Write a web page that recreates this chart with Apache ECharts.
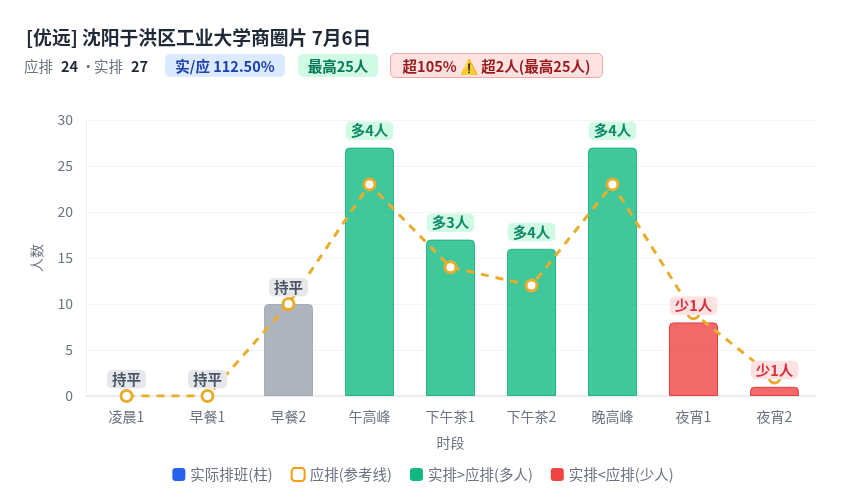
<!DOCTYPE html>
<html><head><meta charset="utf-8">
<script src="https://cdn.jsdelivr.net/npm/echarts@6/dist/echarts.min.js"></script>
<style>
html,body{margin:0;padding:0;background:#fff;width:846px;height:500px;overflow:hidden;font-family:"Noto Sans CJK SC","Noto Sans",sans-serif}
#title{position:absolute;left:26px;top:24px;font-size:18.8px;font-weight:700;line-height:25px;color:#1f2937;white-space:nowrap}
.t{position:absolute;top:55px;line-height:22px;font-size:14.5px;white-space:nowrap;color:#6b7280}
.t b{color:#1f2937;font-weight:700}
.b{position:absolute;top:54px;height:23px;line-height:23px;font-size:14.5px;font-weight:700;border-radius:5px;text-align:center;white-space:nowrap;box-sizing:border-box}
#chart{position:absolute;left:0;top:0;width:846px;height:500px}
</style></head><body>
<div id="chart"></div>
<div id="title">[优远] 沈阳于洪区工业大学商圈片 7月6日</div>
<div class="t" style="left:24px">应排</div><div class="t" style="left:61px"><b>24</b></div>
<div class="t" style="left:81px">·</div>
<div class="t" style="left:94px">实排</div><div class="t" style="left:131px"><b>27</b></div>
<div class="b" style="left:165px;width:120px;background:#dbeafe;color:#1e40af">实/应 112.50%</div>
<div class="b" style="left:298px;width:80px;background:#d1fae5;color:#047857">最高25人</div>
<div class="b" style="left:390px;width:213px;top:53px;height:25px;line-height:23px;background:#fee2e2;color:#991b1b;border:1px solid #fca5a5">超105% ⚠️ 超2人(最高25人)</div>
<script>
const categories=['凌晨1','早餐1','早餐2','午高峰','下午茶1','下午茶2','晚高峰','夜宵1','夜宵2'];
const actual=[0,0,10,27,17,16,27,8,1];
const planned=[0,0,10,23,14,12,23,9,2];
const diffLabels=['持平','持平','持平','多4人','多3人','多4人','多4人','少1人','少1人'];
const tones=['flat','flat','flat','over','over','over','over','under','under'];
const barTone={flat:['rgba(156,163,175,.82)','rgba(156,163,175,.82)'],over:['rgba(16,185,129,.8)','rgba(16,170,120,.8)'],under:['rgba(239,68,68,.8)','rgba(220,38,38,.8)']};
const labelTone={flat:['#e5e7eb','#4b5563'],over:['#d1fae5','#0f8a66'],under:['#fee2e2','#d6303f']};
const chart=echarts.init(document.getElementById('chart'),null,{renderer:'canvas'});
chart.setOption({
 animation:false,
 textStyle:{fontFamily:'"Noto Sans CJK SC","Noto Sans",sans-serif'},
 grid:{left:86,right:31,top:120,bottom:104},
 legend:{bottom:13,left:'center',itemWidth:13,itemHeight:13,itemGap:18,
  textStyle:{color:'#6b7280',fontSize:14.5},
  data:[
   {name:'实际排班(柱)',icon:'roundRect',itemStyle:{color:'#2563eb'}},
   {name:'应排(参考线)',icon:'roundRect',itemStyle:{color:'#fff',borderColor:'#f59e0b',borderWidth:2}},
   {name:'实排>应排(多人)',icon:'roundRect',itemStyle:{color:'#10b981'}},
   {name:'实排<应排(少人)',icon:'roundRect',itemStyle:{color:'#ef4444'}}
  ]},
 xAxis:{type:'category',data:categories,name:'时段',nameLocation:'middle',nameGap:40,
  nameTextStyle:{color:'#6b7280',fontSize:14},
  axisLine:{lineStyle:{color:'#e5e7eb',width:1.5}},axisTick:{show:false},
  axisLabel:{color:'#6b7280',fontSize:14,margin:14}},
 yAxis:{type:'value',min:0,max:30,interval:5,name:'人数',nameLocation:'middle',nameGap:42,
  nameTextStyle:{color:'#6b7280',fontSize:14},
  axisLine:{show:true,lineStyle:{color:'#eef0f3'}},axisTick:{show:false},
  axisLabel:{color:'#6b7280',fontSize:14,margin:13},
  splitLine:{lineStyle:{color:'#f3f4f6'}}},
 series:[
  {name:'实际排班(柱)',type:'bar',stack:'a',barWidth:49,z:2,
   data:actual.map((v,i)=>{const t=tones[i];return{value:v,
    itemStyle:{color:barTone[t][0],borderColor:barTone[t][1],borderWidth:v?1:0,borderRadius:[4,4,0,0]}}})},
  {name:'实排>应排(多人)',type:'bar',stack:'a',data:[]},
  {name:'实排<应排(少人)',type:'bar',stack:'a',data:[]},
  {name:'应排(参考线)',type:'line',z:3,data:planned,symbol:'circle',symbolSize:11,showAllSymbol:true,
   lineStyle:{color:'#e9ad2e',width:3,type:[8,7]},
   itemStyle:{color:'#fff',borderColor:'#e9ad2e',borderWidth:3}},
  {name:'差异标签',type:'line',z:5,data:actual.map((v,i)=>{const t=tones[i];return{value:v,
    label:{show:true,position:'top',distance:7,formatter:diffLabels[i],fontSize:14.5,fontWeight:700,
     color:labelTone[t][1],backgroundColor:labelTone[t][0],padding:[2,5],borderRadius:5}}}),
   symbol:'circle',symbolSize:1,showAllSymbol:true,lineStyle:{width:0,color:'rgba(0,0,0,0)'},itemStyle:{color:'rgba(0,0,0,0)',borderWidth:0},silent:true}
 ]
});
</script></body></html>
